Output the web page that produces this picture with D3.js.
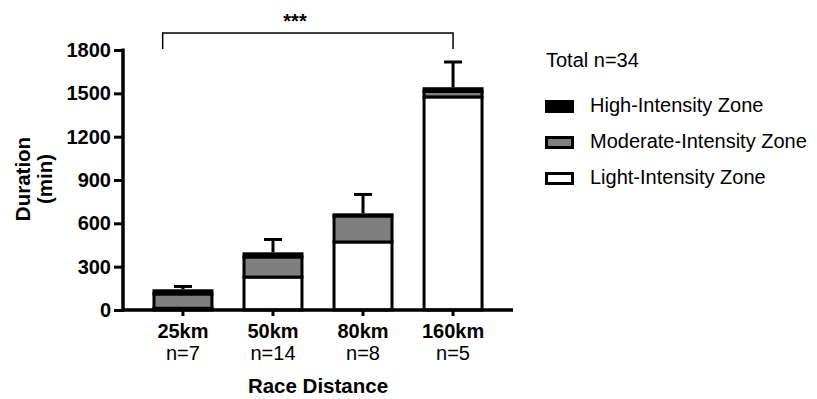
<!DOCTYPE html>
<html>
<head>
<meta charset="utf-8">
<script src="https://cdn.jsdelivr.net/npm/d3@7"></script>
<style>
  body { margin: 0; background: #fff; }
  svg text { font-family: "Liberation Sans", Arial, Helvetica, sans-serif; }
</style>
</head>
<body>
<div id="container"></div>
<script>
// chart data
let categories = ["25km", "50km", "80km", "160km"];
let nLabels = ["n=7", "n=14", "n=8", "n=5"];
let light = [12, 228, 471, 1475];
let moderate = [99, 139, 180, 38];
let high = [22, 22, 8, 19];
let sd = [30, 99, 141, 185];
let yTicks = [0, 300, 600, 900, 1200, 1500, 1800];
let zoneKeys = ["light", "moderate", "high"];
let zoneNames = {high: "High-Intensity Zone", moderate: "Moderate-Intensity Zone", light: "Light-Intensity Zone"};
let zoneColors = {high: "#000000", moderate: "#7f7f7f", light: "#ffffff"};
let totalLabel = "Total n=34";
let sigLabel = "***";

let width = 817;
let height = 399;

let rows = categories.map(function(c, i) {
    return {cat: c, light: light[i], moderate: moderate[i], high: high[i], sd: sd[i]};
});

let svg = d3.select("#container").append("svg")
    .attr("width", width)
    .attr("height", height);

let x = d3.scaleBand()
    .domain(categories)
    .range([123, 513])
    .paddingInner(0.356)
    .paddingOuter(0.344);

let y = d3.scaleLinear()
    .domain([0, 1800])
    .range([310, 50]);

// stacked bars
let series = d3.stack().keys(zoneKeys)(rows);

svg.append("g").selectAll("g")
    .data(series)
    .join("g")
    .attr("fill", function(s) { return zoneColors[s.key]; })
    .selectAll("rect")
    .data(function(s) { return s; })
    .join("rect")
    .attr("x", function(d) { return x(d.data.cat); })
    .attr("y", function(d) { return y(d[1]); })
    .attr("width", x.bandwidth())
    .attr("height", function(d) { return y(d[0]) - y(d[1]); })
    .attr("stroke", "#000")
    .attr("stroke-width", 3);

// error bars (upper only)
let err = svg.append("g").attr("stroke", "#000").attr("stroke-width", 3);
rows.forEach(function(r) {
    let total = r.light + r.moderate + r.high;
    let cx = x(r.cat) + x.bandwidth() / 2;
    err.append("line")
        .attr("x1", cx).attr("x2", cx)
        .attr("y1", y(total) - 1.5).attr("y2", y(total + r.sd));
    err.append("line")
        .attr("x1", cx - 9).attr("x2", cx + 9)
        .attr("y1", y(total + r.sd)).attr("y2", y(total + r.sd));
});

// y axis
let yAxis = svg.append("g")
    .attr("transform", "translate(123,0)")
    .call(d3.axisLeft(y).tickValues(yTicks).tickFormat(d3.format("d"))
        .tickSize(9).tickPadding(3).tickSizeOuter(0));
yAxis.select(".domain").attr("stroke-width", 3.5).attr("d", "M0," + (y(0) + 1.5) + "V" + (y(1800) - 1.5));
yAxis.selectAll(".tick line").attr("stroke-width", 3);
yAxis.selectAll(".tick text")
    .attr("font-size", 20)
    .attr("font-weight", "bold")
    .attr("fill", "#000")
    .attr("font-family", "Liberation Sans, Arial, sans-serif");

// x axis
let xAxis = svg.append("g")
    .attr("transform", "translate(0,310)")
    .call(d3.axisBottom(x).tickSize(6).tickSizeOuter(0).tickFormat(""));
xAxis.select(".domain").attr("stroke-width", 3.5).attr("d", "M121.25,0H513");
xAxis.selectAll(".tick line").attr("stroke-width", 3);

// category labels
let labels = svg.append("g").attr("text-anchor", "middle").attr("fill", "#000");
categories.forEach(function(c, i) {
    let cx = x(c) + x.bandwidth() / 2;
    labels.append("text")
        .attr("x", cx).attr("y", 338)
        .attr("font-size", 20).attr("font-weight", "bold")
        .text(c);
    labels.append("text")
        .attr("x", cx).attr("y", 360)
        .attr("font-size", 20)
        .text(nLabels[i]);
});

// axis titles
svg.append("text")
    .attr("x", 318).attr("y", 393)
    .attr("text-anchor", "middle")
    .attr("font-size", 20.5).attr("font-weight", "bold")
    .text("Race Distance");

let yTitle = svg.append("text")
    .attr("transform", "translate(30,179) rotate(-90)")
    .attr("text-anchor", "middle")
    .attr("font-size", 20.5).attr("font-weight", "bold");
yTitle.append("tspan").attr("x", 0).attr("y", 0).text("Duration");
yTitle.append("tspan").attr("x", 0).attr("y", 22).text("(min)");

// significance bracket
let bx0 = x(categories[0]) + x.bandwidth() * 0.15;
let bx1 = x(categories[3]) + x.bandwidth() / 2;
svg.append("path")
    .attr("d", "M" + bx0 + ",49V33H" + bx1 + "V49")
    .attr("fill", "none")
    .attr("stroke", "#000")
    .attr("stroke-width", 1.5);
svg.append("text")
    .attr("x", 295).attr("y", 28)
    .attr("text-anchor", "middle")
    .attr("font-size", 20).attr("font-weight", "bold")
    .text(sigLabel);

// legend
let legend = svg.append("g");
legend.append("text")
    .attr("x", 546).attr("y", 67)
    .attr("font-size", 20)
    .text(totalLabel);

["high", "moderate", "light"].forEach(function(k, i) {
    let by = 112 + i * 36;
    legend.append("rect")
        .attr("x", 546.5).attr("y", by - 10.5)
        .attr("width", 26).attr("height", 10)
        .attr("fill", zoneColors[k])
        .attr("stroke", "#000")
        .attr("stroke-width", 3);
    legend.append("text")
        .attr("x", 590).attr("y", by)
        .attr("font-size", 20)
        .text(zoneNames[k]);
});
</script>
</body>
</html>
